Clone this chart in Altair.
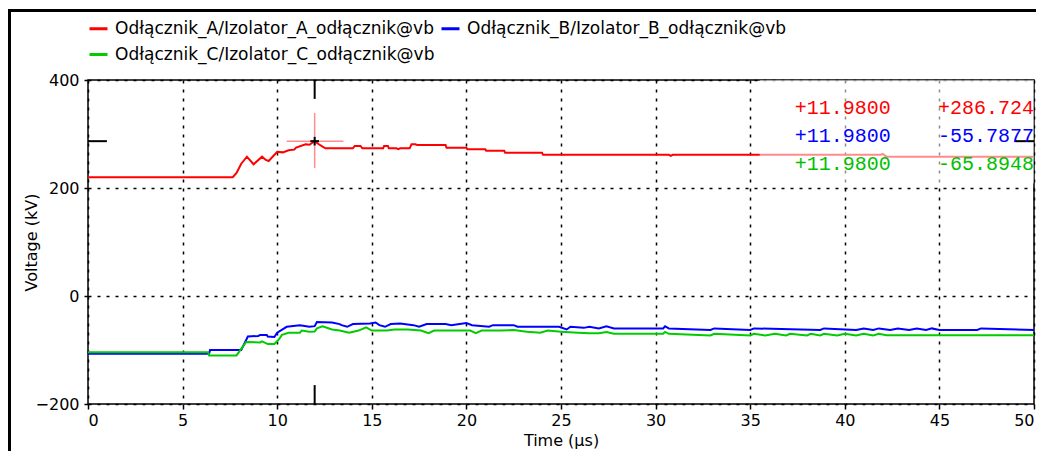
import altair as alt
import pandas as pd

# ---------------- data ----------------
series_names = [
    "Odłącznik_A/Izolator_A_odłącznik@vb",
    "Odłącznik_B/Izolator_B_odłącznik@vb",
    "Odłącznik_C/Izolator_C_odłącznik@vb",
]
series_colors = ["#ff0000", "#0000ff", "#00cc00"]

red_t = [0, 7.65, 7.85, 8.1, 8.4, 8.75, 9.2, 9.4, 9.55, 10.0, 10.3, 10.6, 10.9, 11.0, 11.5, 11.7, 11.98,
         12.2, 12.4, 12.55, 14.0, 14.1, 14.4, 14.5, 15.6, 15.65, 15.85, 15.9, 16.3, 16.4, 16.5, 17.0,
         17.1, 17.3, 17.4, 18.9, 18.95, 20.0, 20.05, 21.0, 21.05, 22.0, 22.05, 24.0, 24.05, 30.7, 30.8,
         30.9, 41.9, 42.0, 42.2, 50]
red_v = [220, 220, 228, 245, 258, 244, 258, 252, 250, 267, 266, 270, 271, 275, 281, 280, 286.7,
         281, 276.5, 273.5, 273.5, 277.8, 277.8, 273.5, 273.5, 277.8, 277.8, 273.5, 273.5, 272, 273.5, 273.5,
         281, 281, 279.6, 279.6, 274.6, 274.6, 271.6, 271.6, 269, 269, 265.4, 265.4, 261.5, 261.5, 259.5,
         261.5, 261.5, 263, 258, 258]

blue_t = [0, 6.4, 6.45, 8.1, 8.45, 9.0, 9.1, 9.45, 9.5, 9.85, 10.0, 10.5, 11.2, 11.7, 11.98, 12.1, 12.9,
          13.3, 13.4, 13.7, 14.0, 14.9, 15.2, 15.4, 15.7, 16.0, 16.5, 17.2, 17.5, 17.9, 18.9, 19.2, 20.0,
          20.3, 21.2, 21.4, 22.5, 22.7, 24.9, 25.3, 25.5, 26.2, 26.5, 27.0, 27.4, 27.8, 30.4, 30.5, 30.7,
          32.9, 33.1, 35.0, 35.2, 38.7, 38.9, 40.6, 41.0, 41.5, 41.8, 42.4, 42.8, 43.4, 43.8, 44.3, 44.6,
          45.0, 47.0, 47.2, 50]
blue_v = [-107, -107, -100, -100, -75, -74, -72, -72, -75, -76, -68, -57, -54, -57, -55.8, -48, -49,
          -52, -54, -57, -52, -51, -49, -54, -57, -52, -51, -54, -57, -52, -52, -54, -50,
          -54, -57, -54, -54, -57, -57, -62, -57, -59, -57, -60, -56, -60, -60, -56, -60,
          -63, -60, -63, -60, -63, -60, -63, -60, -63, -60, -63, -60, -63, -60, -63, -60,
          -63, -63, -60, -63]

green_t = [0, 6.35, 6.4, 7.85, 8.36, 9.1, 9.2, 9.5, 9.85, 10.1, 10.25, 10.6, 11.2, 11.3, 11.7, 11.98,
           12.1, 12.4, 12.9, 13.3, 13.8, 14.3, 14.7, 15.0, 15.8, 16.2, 16.9, 17.6, 18.0, 18.3, 19.0, 20.2,
           20.5, 20.8, 21.8, 22.5, 23.2, 23.9, 24.3, 25.0, 25.9, 26.5, 27.0, 27.4, 27.8, 30.4, 30.5, 30.7,
           32.9, 33.1, 35.0, 35.2, 35.8, 36.3, 36.9, 37.1, 38.0, 38.2, 38.7, 38.9, 39.6, 40.0, 40.6, 41.0,
           41.5, 41.8, 42.2, 50]
green_v = [-104, -104, -110, -110, -85, -86, -84, -89, -89, -80, -72, -68, -68, -64, -66, -65.9,
           -60, -56, -62, -64, -68, -64, -58, -64, -64, -62, -62, -64, -69, -64, -64, -64,
           -69, -64, -64, -63, -66, -68, -64, -66, -68, -69, -69, -66.5, -70, -70, -66.5, -70,
           -73, -70, -73, -70, -73, -70, -73, -70, -73, -70, -73, -70, -73, -70, -73, -70,
           -73, -70, -72.5, -72.5]

x_ticks = [0, 5, 10, 15, 20, 25, 30, 35, 40, 45, 50]
y_ticks = [-200, 0, 200, 400]

cursor_t = 11.98
cursor_vals = [286.724, -55.7877, -65.8948]
cursor_labels_t = ["+11.9800", "+11.9800", "+11.9800"]
cursor_labels_v = ["+286.724", "-55.7877", "-65.8948"]
readout_v = [349, 296, 244]
readout_colors = ["#ff0000", "#0000ff", "#00c000"]

# ---------------- tables ----------------
rows = []
for name, ts, vs in zip(series_names, [red_t, blue_t, green_t], [red_v, blue_v, green_v]):
    for t, v in zip(ts, vs):
        rows.append({"series": name, "t": t, "v": v})
df = pd.DataFrame(rows)

xs = alt.Scale(domain=[0, 50], nice=False, zero=False)
ys = alt.Scale(domain=[-200, 400], nice=False, zero=False)

lines = alt.Chart(df).mark_line(strokeWidth=2, clip=True).encode(
    x=alt.X("t:Q", scale=xs, title="Time (µs)",
            axis=alt.Axis(values=x_ticks, tickSize=5, labelPadding=3, titlePadding=4,
                          labelFlush=True, labelFlushOffset=0, grid=True, domain=False)),
    y=alt.Y("v:Q", scale=ys, title="Voltage (kV)",
            axis=alt.Axis(values=y_ticks, tickSize=4, labelPadding=5, titlePadding=-4,
                          labelFlush=False, grid=True, domain=False)),
    color=alt.Color("series:N", scale=alt.Scale(domain=series_names, range=series_colors),
                    legend=alt.Legend(orient="none", legendX=0, legendY=-62, columns=2,
                                      direction="horizontal", title=None, symbolType="stroke",
                                      symbolSize=324, symbolStrokeWidth=3, labelFont="DejaVu Sans",
                                      labelFontSize=17, labelOffset=6, columnPadding=0,
                                      rowPadding=7, labelLimit=600, padding=0, labelColor="black")),
)

# light box behind readouts
box_df = pd.DataFrame({"t1": [35.5], "t2": [50], "v1": [209], "v2": [400]})
box = alt.Chart(box_df).mark_rect(color="white", opacity=0.55).encode(
    x=alt.X("t1:Q", scale=xs), x2="t2:Q", y=alt.Y("v1:Q", scale=ys), y2="v2:Q")

cv = cursor_vals[0]
pink_df = pd.DataFrame({"x1": [10.5, cursor_t], "x2": [13.5, cursor_t],
                        "y1": [cv, 237], "y2": [cv, 339]})
pink = alt.Chart(pink_df).mark_rule(color="#ff8f8f", strokeWidth=1.5).encode(
    x=alt.X("x1:Q", scale=xs), x2="x2:Q", y=alt.Y("y1:Q", scale=ys), y2="y2:Q")

black_df = pd.DataFrame({
    "x1": [cursor_t - 0.23, cursor_t, cursor_t, cursor_t, 0, 49.0],
    "x2": [cursor_t + 0.23, cursor_t, cursor_t, cursor_t, 1.0, 50],
    "y1": [cv, cv - 8, 400, -200, cv, cv],
    "y2": [cv, cv + 8, 365, -165, cv, cv],
})
blk = alt.Chart(black_df).mark_rule(color="black", strokeWidth=2).encode(
    x=alt.X("x1:Q", scale=xs), x2="x2:Q", y=alt.Y("y1:Q", scale=ys), y2="y2:Q")

txt_df = pd.DataFrame({
    "t": [37.35] * 3 + [50] * 3,
    "v": readout_v * 2,
    "label": cursor_labels_t + cursor_labels_v,
    "col": readout_colors * 2,
    "al": ["left"] * 3 + ["right"] * 3,
})
txt_left = alt.Chart(txt_df[txt_df.al == "left"]).mark_text(
    font="Liberation Mono", fontSize=20, align="left", baseline="middle").encode(
    x=alt.X("t:Q", scale=xs), y=alt.Y("v:Q", scale=ys), text="label:N",
    color=alt.Color("col:N", scale=None))
txt_right = alt.Chart(txt_df[txt_df.al == "right"]).mark_text(
    font="Liberation Mono", fontSize=20, align="right", baseline="middle").encode(
    x=alt.X("t:Q", scale=xs), y=alt.Y("v:Q", scale=ys), text="label:N",
    color=alt.Color("col:N", scale=None))

frame = alt.Chart(pd.DataFrame({"a": [0]})).mark_rect(
    fillOpacity=0, stroke="black", strokeWidth=3).encode(
    x=alt.value(-78.5), x2=alt.value(980), y=alt.value(-69.5), y2=alt.value(420))

chart = alt.layer(lines, box, pink, blk, txt_left, txt_right, frame).properties(
    width=946, height=324,
    autosize=alt.AutoSizeParams(type="none"),
    padding={"left": 80, "top": 72, "right": 2, "bottom": 47},
    background="white",
).configure_view(stroke="black", strokeWidth=1.5).configure_axis(
    labelFont="DejaVu Sans", labelFontSize=16, labelColor="black",
    titleFont="DejaVu Sans", titleFontSize=16, titleFontWeight="normal", titleColor="black",
    tickColor="black", tickWidth=1.5,
    gridColor="black", gridDash=[3, 6], gridWidth=1.5, gridOpacity=1,
)

chart.save("out.html", embed_options={"renderer": "svg", "actions": False})
